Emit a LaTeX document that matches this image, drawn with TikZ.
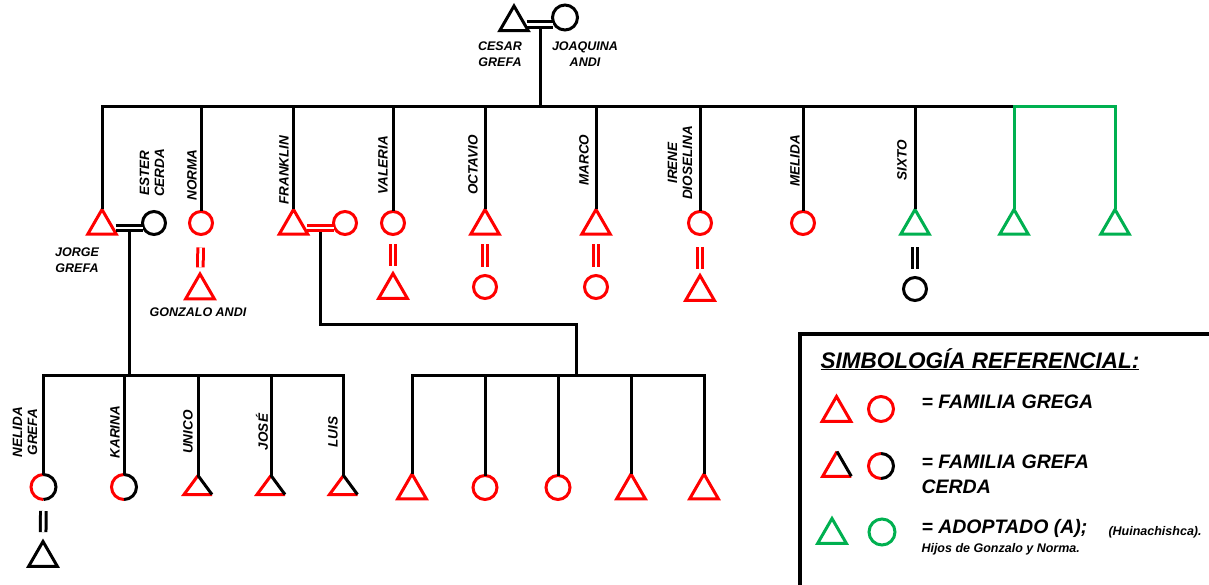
\documentclass[tikz,border=0pt]{standalone}
\usepackage{fontspec}
\setmainfont{Liberation Sans}
\usetikzlibrary{shapes.geometric}
\definecolor{fred}{RGB}{255,0,0}
\definecolor{fgreen}{RGB}{0,176,80}
\newcommand{\bicircle}[3]{%
  \node[circ,draw=none,minimum size=#3pt] (#1) at (#2) {};
  \draw[fred] (#1.north) arc[start angle=90,end angle=270,radius=#3/2];
  \draw (#1.south) arc[start angle=-90,end angle=90,radius=#3/2];}
\newcommand{\bitri}[4]{%
  \node[rectangle,minimum width=#3pt,minimum height=#4pt,inner sep=0pt,outer sep=0pt] (#1) at (#2) {};
  \draw[fred] (#1.north) -- (#1.south west) -- (#1.south east);
  \draw (#1.south east) -- (#1.north);}
\begin{document}
\begin{tikzpicture}[x=1pt,y=1pt,line width=3pt,
  tri/.style={regular polygon,regular polygon sides=3,minimum size=33pt,inner sep=0pt,outer sep=0pt,draw},
  circ/.style={circle,minimum size=23pt,inner sep=0pt,outer sep=0pt,draw},
  marr/.style={double,double distance=2.6pt,line width=3pt},
  lab/.style={font=\fontsize{13.5}{15}\selectfont\bfseries\itshape,inner sep=0pt,align=center},
  vlab/.style={lab,rotate=90},
  hlab/.style={font=\fontsize{12.5}{15.5}\selectfont\bfseries\itshape,inner sep=0pt,align=center},
  ltext/.style={font=\fontsize{19.5}{23}\selectfont\bfseries\itshape,inner sep=0pt,anchor=base west},
  stext/.style={font=\fontsize{12.5}{15}\selectfont\bfseries\itshape,inner sep=0pt,anchor=base west},
]
\useasboundingbox (0,0) rectangle (1209,-585);

% ---------- generation 1
\node[tri] (cesar) at (514,-22.5) {};
\node[circ,minimum size=25pt] (joaq) at (565,-17.5) {};
\node[hlab] (l-cesar) at (500,-54) {CESAR\\GREFA};
\node[hlab] (l-joaq) at (585,-54) {JOAQUINA\\ANDI};

% ---------- generation 2
\node[tri,draw=fred] (jorge) at (102,-226) {};
\node[circ] (ester) at (154,-223) {};
\node[circ,draw=fred] (norma) at (201,-223) {};
\node[tri,draw=fred] (gonzalo) at (200,-290.5) {};
\node[tri,draw=fred] (frank) at (293.5,-226) {};
\node[circ,draw=fred] (fwife) at (345,-223) {};
\node[circ,draw=fred] (valeria) at (393,-223) {};
\node[tri,draw=fred] (valsp) at (393,-290) {};
\node[tri,draw=fred] (octavio) at (485,-226) {};
\node[circ,draw=fred] (octsp) at (485,-287) {};
\node[tri,draw=fred] (marco) at (596,-226) {};
\node[circ,draw=fred] (marsp) at (596,-287) {};
\node[circ,draw=fred] (irene) at (700,-223) {};
\node[tri,draw=fred] (iresp) at (700,-292) {};
\node[circ,draw=fred] (melida) at (803,-223) {};
\node[tri,draw=fgreen] (sixto) at (915,-226) {};
\node[circ] (sixsp) at (915,-289) {};
\node[tri,draw=fgreen] (g1) at (1014,-226) {};
\node[tri,draw=fgreen] (g2) at (1115,-226) {};

\node[hlab] (l-jorge) at (77,-260) {JORGE\\GREFA};
\node[vlab] (l-ester) at (152,-173) {ESTER\\CERDA};
\node[vlab] (l-norma) at (192,-175) {NORMA};
\node[hlab] (l-gonzalo) at (198,-312) {GONZALO ANDI};
\node[vlab] (l-frank) at (284,-170) {FRANKLIN};
\node[vlab] (l-valeria) at (383,-165) {VALERIA};
\node[vlab] (l-octavio) at (473,-165) {OCTAVIO};
\node[vlab] (l-marco) at (584,-160) {MARCO};
\node[vlab] (l-irene) at (680,-163) {IRENE\\DIOSELINA};
\node[vlab] (l-melida) at (795,-161) {MELIDA};
\node[vlab] (l-sixto) at (902,-160) {SIXTO};

% ---------- generation 3
\bicircle{nelida}{43.5,-487}{25}
\node[tri] (nelsp) at (43,-558) {};
\bicircle{karina}{124,-487}{25}
\bitri{unico}{198,-485}{28}{19}
\bitri{jose}{271,-485}{28}{19}
\bitri{luis}{343.5,-485}{28}{19}

\node[tri,draw=fred] (c1) at (412,-490.5) {};
\node[circ,draw=fred,minimum size=24pt] (c2) at (485,-487.5) {};
\node[circ,draw=fred,minimum size=24pt] (c3) at (558,-487.5) {};
\node[tri,draw=fred] (c4) at (631,-490.5) {};
\node[tri,draw=fred] (c5) at (704,-490.5) {};

\node[vlab] (l-nelida) at (25,-432) {NELIDA\\GREFA};
\node[vlab] (l-karina) at (115,-432) {KARINA};
\node[vlab] (l-unico) at (188,-432) {UNICO};
\node[vlab] (l-jose) at (262,-432) {JOSÉ};
\node[vlab] (l-luis) at (333,-432) {LUIS};

% ---------- connectors
\coordinate (m0) at (540,-24.5);
\coordinate (bus) at (540,-107);
\draw (m0) -- (bus);
\draw (jorge.north) -- (jorge.north |- bus) -- (g1.north |- bus);
\draw[fgreen] (g1.north) -- (g1.north |- bus) -- (g2.north |- bus) -- (g2.north);
\foreach \n in {norma,frank,valeria,octavio,marco,irene,melida,sixto}
  \draw (\n.north) -- (\n.north |- bus);

\coordinate (m1) at (129.5,-228);
\coordinate (bus2) at (129.5,-375);
\draw (m1) -- (bus2);
\draw (nelida.north) -- (nelida.north |- bus2) -- (luis.north |- bus2) -- (luis.north);
\foreach \n in {karina,unico,jose}
  \draw (\n.north) -- (\n.north |- bus2);

\coordinate (m2) at (320,-228);
\coordinate (knee) at (576,-324);
\coordinate (bus3) at (576,-375);
\draw (m2) -- (m2 |- knee) -- (knee) -- (bus3);
\draw (c1.north) -- (c1.north |- bus3) -- (c5.north |- bus3) -- (c5.north);
\foreach \n in {c2,c3,c4}
  \draw (\n.north) -- (\n.north |- bus3);

% marriages
\draw[marr] ([xshift=3pt]m0 -| cesar.east) -- (m0 -| joaq.west);
\draw[marr] ([xshift=4pt]m1 -| jorge.east) -- (m1 -| ester.west);
\draw[marr,fred] ([xshift=4pt]m2 -| frank.east) -- (m2 -| fwife.west);
\draw[marr,fred,shorten <=13pt,shorten >=7pt] (norma) -- (gonzalo);
\draw[marr,fred,shorten <=9.5pt,shorten >=7.5pt] (valeria) -- (valsp);
\draw[marr,fred,shorten <=10pt,shorten >=8.5pt] (octavio) -- (octsp);
\draw[marr,fred,shorten <=10pt,shorten >=8.5pt] (marco) -- (marsp);
\draw[marr,fred,shorten <=12.5pt,shorten >=6.5pt] (irene) -- (iresp);
\draw[marr,shorten <=13pt,shorten >=8.5pt] (sixto) -- (sixsp);
\draw[marr,shorten <=11.5pt,shorten >=9.5pt] (nelida) -- (nelsp);

% ---------- legend
\draw[line width=3.5pt] (1209,-334) -- (800,-334) -- (800,-585);
\node[anchor=base west,font=\fontsize{22.5}{26}\selectfont\bfseries\itshape,inner sep=0pt] (ltitle) at (819,-368) {\underline{SIMBOLOGÍA REFERENCIAL:}};
\node[tri,draw=fred] (ltri1) at (836.5,-413) {};
\node[circ,draw=fred,minimum size=25pt] (lcirc1) at (881,-409) {};
\node[ltext] (lt1) at (920,-408) {= FAMILIA GREGA};
\node[tri,draw=none] (ltri2) at (837,-468) {};
\draw[fred] (ltri2.corner 1) -- (ltri2.corner 2) -- (ltri2.corner 3);
\draw (ltri2.corner 3) -- (ltri2.corner 1);
\bicircle{lcirc2}{881,-466}{25}
\node[ltext] (lt2a) at (920,-468) {= FAMILIA GREFA};
\node[ltext] (lt2b) at (920,-493) {CERDA};
\node[tri,draw=fgreen] (ltri3) at (832,-535) {};
\node[circ,draw=fgreen,minimum size=26pt] (lcirc3) at (882,-532) {};
\node[ltext] (lt3) at (920,-533) {= ADOPTADO (A);};
\node[stext] (lt3b) at (1107,-535) {(Huinachishca).};
\node[stext] (lt3c) at (920,-552) {Hijos de Gonzalo y Norma.};
\end{tikzpicture}
\end{document}
